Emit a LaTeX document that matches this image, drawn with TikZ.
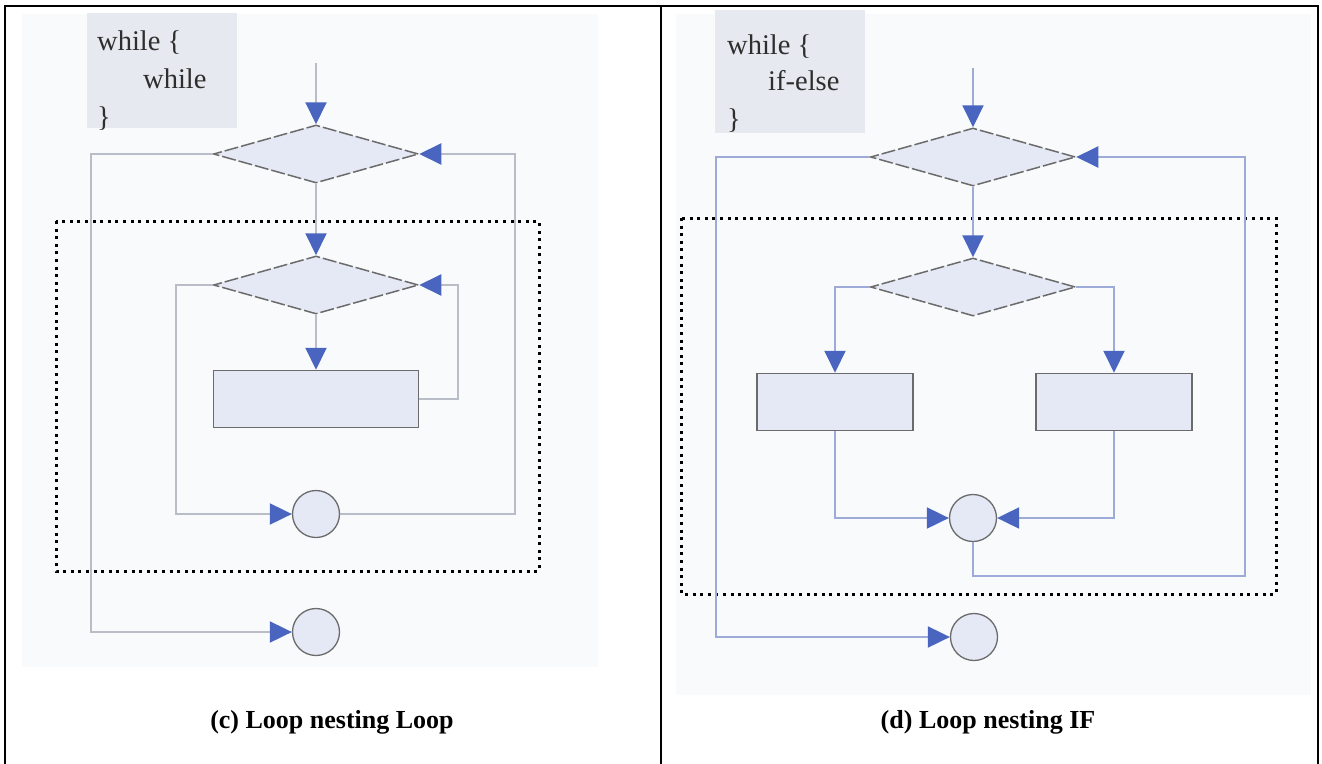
\documentclass[tikz,border=0pt]{standalone}
\usepackage{fontspec}
\setmainfont{Liberation Serif}
\usetikzlibrary{arrows.meta,shapes.geometric}

\definecolor{panelbg}{HTML}{F9FAFC}
\definecolor{codebg}{HTML}{E6E9EF}
\definecolor{codeink}{HTML}{2E2E2E}
\definecolor{shapefill}{HTML}{E5E9F5}
\definecolor{shapeline}{HTML}{6B6B6B}
\definecolor{greyline}{HTML}{B9BDC8}
\definecolor{blueline}{HTML}{9EAAD8}
\definecolor{tipblue}{HTML}{4A65C0}

\tikzset{
  decision/.style={diamond, draw=shapeline, fill=shapefill, line width=1.5pt,
    dash pattern=on 14pt off 3pt, minimum width=205pt, minimum height=58pt,
    aspect=3.5, inner sep=0pt},
  process/.style={rectangle, draw=shapeline, fill=shapefill, line width=1.5pt,
    minimum width=#1, minimum height=57pt, inner sep=0pt},
  process/.default=205pt,
  joint/.style={circle, draw=shapeline, fill=shapefill, line width=1.3pt,
    minimum size=47pt, inner sep=0pt},
  codebox/.style={rectangle, fill=codebg, inner sep=0pt},
  codetext/.style={anchor=base west, inner sep=0pt, text=codeink,
    font=\fontsize{28.5}{30}\selectfont},
  flowL/.style={draw=greyline, line width=2pt},
  flowR/.style={draw=blueline, line width=2pt},
  tip/.style={-{Triangle[length=22pt,width=21pt,color=tipblue]}},
  loopframe/.style={draw=black, line width=3pt, dash pattern=on 3pt off 4.6pt},
  caption/.style={anchor=base, font=\bfseries\fontsize{26}{30}\selectfont, inner sep=0pt}
}

\begin{document}
\begin{tikzpicture}[x=1pt,y=-1pt]
\useasboundingbox (0,0) rectangle (1322,763);
\fill[white] (0,0) rectangle (1322,763);

% panel backgrounds
\fill[panelbg] (22,14) rectangle (598,667);
\fill[panelbg] (676,14) rectangle (1311,695);

% ---------------- left panel: while inside while ----------------
\node[codebox, anchor=north west, minimum width=150pt, minimum height=115pt] (codeL) at (87,13) {};
\node[codetext] (cl1) at (97,50) {while \{};
\node[codetext] (cl2) at (143,88) {while};
\node[codetext] (cl3) at (97,126) {\}};

\coordinate (inL) at (316,63);
\node[decision] (dL1) at (316,154) {};
\node[decision] (dL2) at (316,285) {};
\node[process] (pL) at (316,399) {};
\node[joint] (jL1) at (316,514) {};
\node[joint] (jL2) at (316,632) {};

\draw[loopframe] (56,221) rectangle (539,571);

\draw[flowL,tip] (inL) -- (dL1.north);
\draw[flowL,tip] (dL1.south) -- (dL2.north);
\draw[flowL,tip] (dL2.south) -- (pL.north);
\draw[flowL,tip] (pL.east) -- ++(39,0) |- (dL2.east);
\draw[flowL,tip] (dL2.west) -- ++(-37,0) |- (jL1.west);
\draw[flowL,tip] (jL1.east) -| (515,180) |- (dL1.east);
\draw[flowL,tip] (dL1.west) -- ++(-122,0) |- (jL2.west);

\node[caption] (capL) at (332,728) {(c) Loop nesting Loop};

% ---------------- right panel: if-else inside while ----------------
\node[codebox, anchor=north west, minimum width=150pt, minimum height=123pt] (codeR) at (715,10) {};
\node[codetext] (cr1) at (727,54) {while \{};
\node[codetext] (cr2) at (768,90) {if-else};
\node[codetext] (cr3) at (727,128) {\}};

\coordinate (inR) at (973,68);
\node[decision] (dR1) at (973,157) {};
\node[decision] (dR2) at (973,287) {};
\node[process=156pt] (pR1) at (835,402) {};
\node[process=156pt] (pR2) at (1114,402) {};
\node[joint] (jR1) at (973,518) {};
\node[joint] (jR2) at (974,637) {};

\draw[loopframe] (681,218) rectangle (1276,594);

\draw[flowR,tip] (inR) -- (dR1.north);
\draw[flowR,tip] (dR1.south) -- (dR2.north);
\draw[flowR,tip] (dR2.west) -| (pR1.north);
\draw[flowR,tip] (dR2.east) -| (pR2.north);
\draw[flowR,tip] (pR1.south) |- (jR1.west);
\draw[flowR,tip] (pR2.south) |- (jR1.east);
\draw[flowR,tip] (jR1.south) |- (1245,576) |- (dR1.east);
\draw[flowR,tip] (dR1.west) -- ++(-154,0) |- (jR2.west);

\node[caption] (capR) at (988,728) {(d) Loop nesting IF};

% outer table frame, open at the foot
\draw[line width=2pt] (5,770) -- (5,6) -- (1318,6) -- (1318,770);
\draw[line width=2pt] (661,6) -- (661,770);
\end{tikzpicture}
\end{document}
